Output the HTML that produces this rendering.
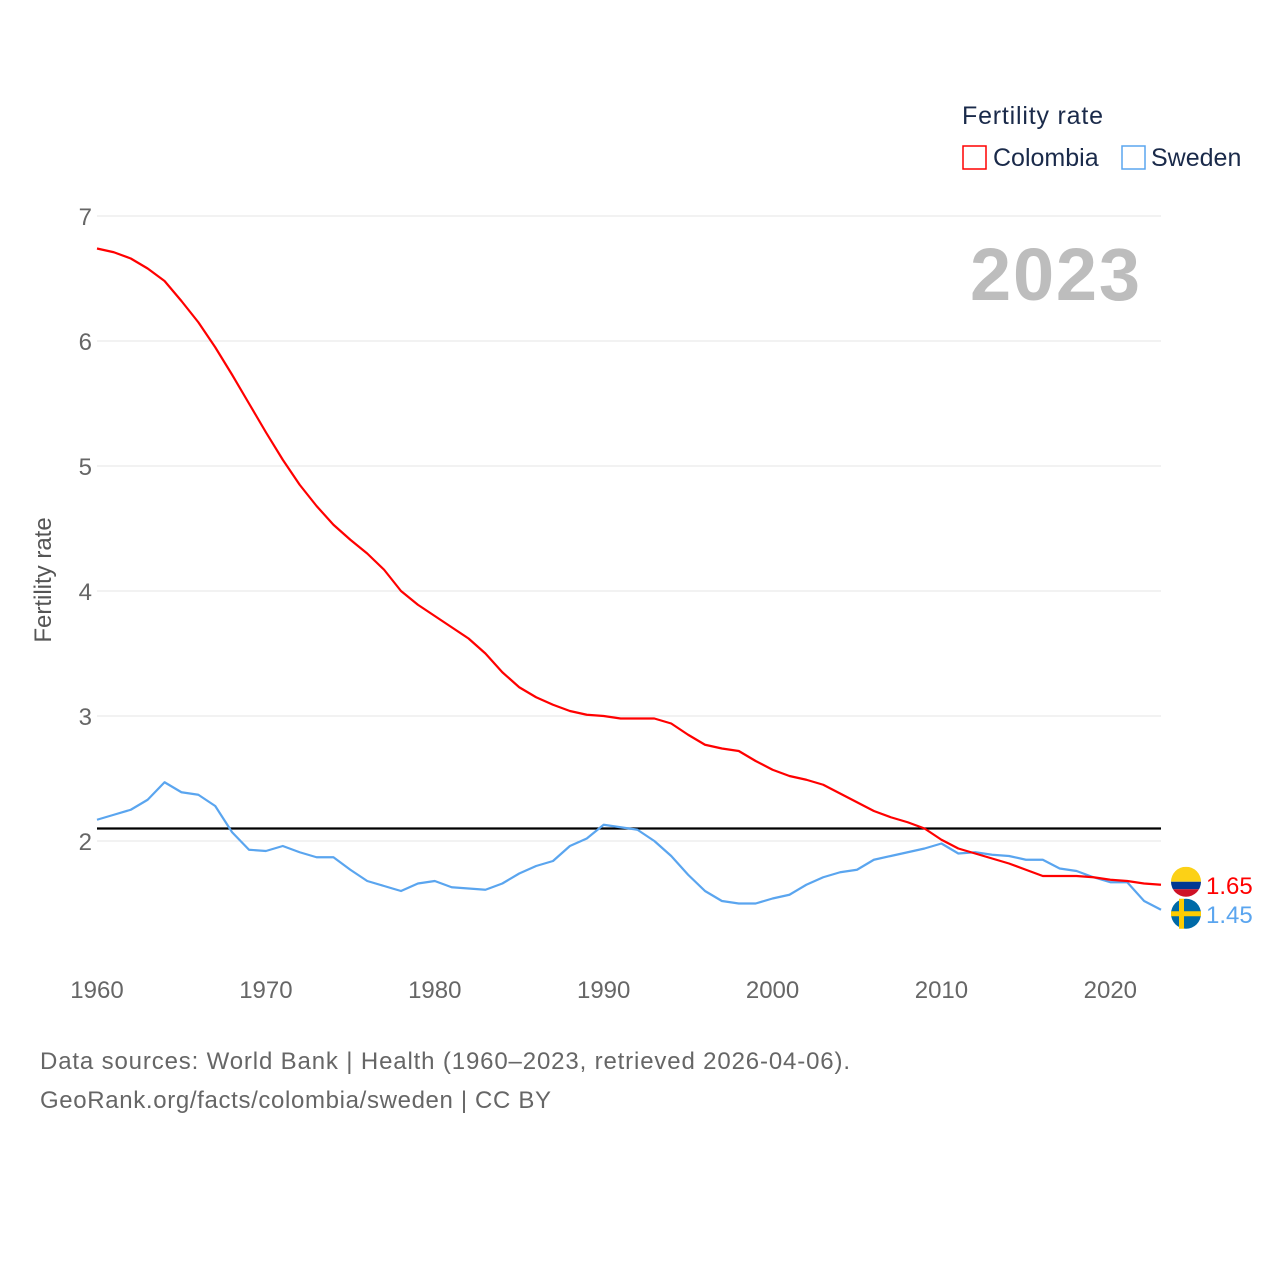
<!DOCTYPE html>
<html><head><meta charset="utf-8"><style>
body{margin:0;background:#fff;font-family:"Liberation Sans",sans-serif}
svg text{font-family:"Liberation Sans",sans-serif}
</style></head><body>
<svg id="c" width="1280" height="1280" viewBox="0 0 1280 1280">
<rect width="1280" height="1280" fill="#fff"/>
<g id="grid"></g>
<g id="xt"></g>
<text x="1140" y="300" text-anchor="end" font-size="74" font-weight="bold" fill="#bdbdbd" textLength="170">2023</text>
<text transform="translate(51,580) rotate(-90)" text-anchor="middle" font-size="24" fill="#555">Fertility rate</text>
<g>
<text x="962" y="124" font-size="25" fill="#1a2a4a" textLength="141">Fertility rate</text>
<g><rect x="963" y="146" width="23" height="23" fill="none" stroke="#f00" stroke-width="1.5"/><text x="993" y="166" font-size="25" fill="#1a2a4a">Colombia</text></g>
<g><rect x="1122" y="146" width="23" height="23" fill="none" stroke="#5aa5ef" stroke-width="1.5"/><text x="1151" y="166" font-size="25" fill="#1a2a4a">Sweden</text></g>
</g>
<g id="series"></g>
<text x="40" y="1069" font-size="24" fill="#666" textLength="810">Data sources: World Bank | Health (1960–2023, retrieved 2026-04-06).</text>
<text x="40" y="1108" font-size="24" fill="#666" textLength="511">GeoRank.org/facts/colombia/sweden | CC BY</text>
</svg>
<script>
const years=[];for(let y=1960;y<=2023;y++)years.push(y);
const colombia=[6.74,6.71,6.66,6.58,6.48,6.32,6.15,5.95,5.73,5.50,5.27,5.05,4.85,4.68,4.53,4.41,4.30,4.17,4.00,3.89,3.80,3.71,3.62,3.50,3.35,3.23,3.15,3.09,3.04,3.01,3.00,2.98,2.98,2.98,2.94,2.85,2.77,2.74,2.72,2.64,2.57,2.52,2.49,2.45,2.38,2.31,2.24,2.19,2.15,2.10,2.01,1.94,1.90,1.86,1.82,1.77,1.72,1.72,1.72,1.71,1.69,1.68,1.66,1.65];
const sweden=[2.17,2.21,2.25,2.33,2.47,2.39,2.37,2.28,2.07,1.93,1.92,1.96,1.91,1.87,1.87,1.77,1.68,1.64,1.60,1.66,1.68,1.63,1.62,1.61,1.66,1.74,1.80,1.84,1.96,2.02,2.13,2.11,2.09,2.00,1.88,1.73,1.60,1.52,1.50,1.50,1.54,1.57,1.65,1.71,1.75,1.77,1.85,1.88,1.91,1.94,1.98,1.90,1.91,1.89,1.88,1.85,1.85,1.78,1.76,1.71,1.67,1.67,1.52,1.45];
const yTicks=[2,3,4,5,6,7];
const xTicks=[1960,1970,1980,1990,2000,2010,2020];
const replacement=2.1;
const NS='http://www.w3.org/2000/svg';
const X=y=>97+(y-1960)*(1161-97)/63;
const Y=v=>841-(v-2)*125;
function mk(t,a,p){const e=document.createElementNS(NS,t);for(const k in a)e.setAttribute(k,a[k]);p.appendChild(e);return e;}
const g=document.getElementById('grid');
yTicks.forEach(v=>{
 const l=mk('line',{x1:97,x2:1161,y1:Y(v),y2:Y(v),stroke:'#e6e6e6','stroke-width':1},g);
 
 
 const t=mk('text',{x:92,y:Y(v)+9,'text-anchor':'end','font-size':24,fill:'#666'},g);t.textContent=v;
 
 
});
const xt=document.getElementById('xt');
xTicks.forEach(v=>{
 const t=mk('text',{x:X(v),y:998,'text-anchor':'middle','font-size':24,fill:'#666'},xt);t.textContent=v;
 
 
});
const s=document.getElementById('series');
const rl=mk('line',{x1:97,x2:1161,y1:Y(replacement),y2:Y(replacement),stroke:'#000','stroke-width':2.2},s);


function line(data,col,name){
 const p=mk('polyline',{points:data.map((v,i)=>X(years[i])+','+Y(v)).join(' '),fill:'none',stroke:col,'stroke-width':2.2,'stroke-linejoin':'round'},s);
 
 
}
line(sweden,'#5aa5ef','sweden-line');
line(colombia,'#f00','colombia-line');
const lc=colombia[colombia.length-1], ls=sweden[sweden.length-1];
const cy=Y(lc)-3, sy=Y(ls)+4;
const cf=mk('g',{},s);
const cp=mk('clipPath',{id:'cc'},cf);
mk('circle',{cx:1186,cy:cy,r:15},cp);
const cg=mk('g',{'clip-path':'url(#cc)'},cf);
mk('rect',{x:1171,y:cy-15,width:30,height:15,fill:'#fcd116'},cg);
mk('rect',{x:1171,y:cy,width:30,height:7.5,fill:'#003893'},cg);
mk('rect',{x:1171,y:cy+7.5,width:30,height:8,fill:'#ce1126'},cg);
const sf=mk('g',{},s);
mk('circle',{cx:1186,cy:sy,r:15,fill:'#006aa7'},sf);
mk('rect',{x:1179,y:sy-15,width:5,height:30,fill:'#fecc00'},sf);
mk('rect',{x:1171,y:sy-2.5,width:30,height:5,fill:'#fecc00'},sf);
const t1=mk('text',{x:1206,y:cy+12,'font-size':24,fill:'#f00'},s);t1.textContent=lc.toFixed(2);

const t2=mk('text',{x:1206,y:sy+9,'font-size':24,fill:'#5aa5ef'},s);t2.textContent=ls.toFixed(2);

</script>
</body></html>
